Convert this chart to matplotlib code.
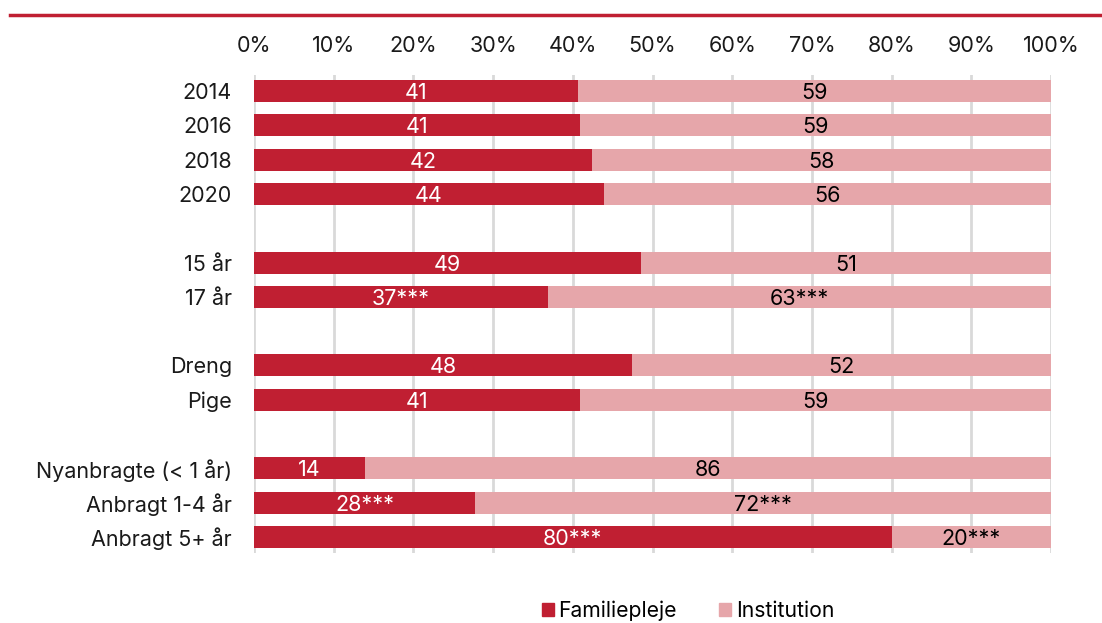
import matplotlib.pyplot as plt
from matplotlib.lines import Line2D
from matplotlib.patches import Patch

plt.rcParams['font.family'] = ['Inter', 'DejaVu Sans']

# Rows (empty string = spacer row)
categories = ['2014', '2016', '2018', '2020', '',
              '15 år', '17 år', '',
              'Dreng', 'Pige', '',
              'Nyanbragte (< 1 år)', 'Anbragt 1-4 år', 'Anbragt 5+ år']
familie = [40.7, 40.9, 42.4, 43.9, None,
           48.6, 36.9, None,
           47.4, 40.9, None,
           13.9, 27.7, 80.0]
familie_labels = ['41', '41', '42', '44', '',
                  '49', '37***', '',
                  '48', '41', '',
                  '14', '28***', '80***']
institution_labels = ['59', '59', '58', '56', '',
                      '51', '63***', '',
                      '52', '59', '',
                      '86', '72***', '20***']

red = '#C01F32'
pink = '#E6A6AA'

fig = plt.figure(figsize=(11.02, 6.23), dpi=100)
ax = fig.add_axes([254 / 1102, 1 - 553 / 623, (1051 - 254) / 1102, (553 - 75) / 623])

for i, val in enumerate(familie):
    if val is None:
        continue
    ax.barh(i, val, height=0.64, color=red, zorder=3)
    ax.barh(i, 100 - val, left=val, height=0.64, color=pink, zorder=3)
    ax.text(val / 2, i, familie_labels[i], ha='center', va='center_baseline',
            color='white', fontsize=15.5, zorder=4)
    ax.text(val + (100 - val) / 2, i, institution_labels[i], ha='center',
            va='center_baseline', color='black', fontsize=15.5, zorder=4)

ax.set_xlim(0, 100)
ax.set_ylim(13.47, -0.47)
ax.set_xticks(range(0, 101, 10))
ax.set_xticklabels([f'{t}%' for t in range(0, 101, 10)])
ax.xaxis.tick_top()
ax.set_yticks(range(len(categories)))
ax.set_yticklabels(categories)
ax.tick_params(length=0, labelsize=15.5, colors='#1a1a1a')
ax.tick_params(axis='x', pad=14)
ax.tick_params(axis='y', pad=16)
ax.grid(axis='x', color='#D9D9D9', linewidth=2, zorder=0)
for s in ax.spines.values():
    s.set_visible(False)

# red rule at the top
fig.add_artist(Line2D([10 / 1102, 1], [1 - 15 / 623, 1 - 15 / 623],
                      color=red, linewidth=2.5, transform=fig.transFigure))

handles = [Patch(color=red, label='Familiepleje'),
           Patch(color=pink, label='Institution')]
fig.legend(handles=handles, loc='center', bbox_to_anchor=(688 / 1102, 1 - 611 / 623),
           ncol=2, frameon=False, fontsize=15.2, handlelength=0.58, handleheight=0.58,
           handletextpad=0.2, columnspacing=2.0)

fig.savefig('out.png', dpi=100)
